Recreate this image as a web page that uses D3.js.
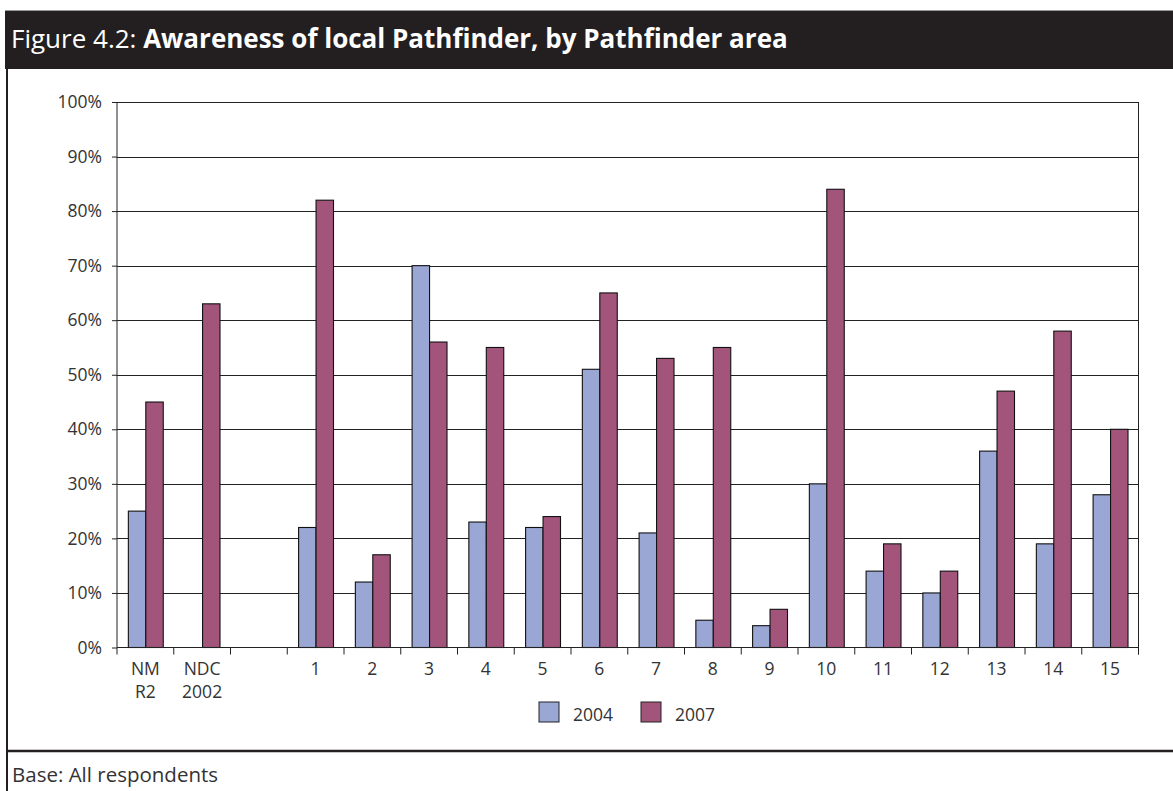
<!DOCTYPE html>
<html>
<head>
<meta charset="utf-8">
<script src="https://cdn.jsdelivr.net/npm/d3@7"></script>
<style>
  html, body { margin: 0; padding: 0; background: #fff; }
  svg { display: block; }
  text { font-family: "Open Sans", "Noto Sans", sans-serif; }
</style>
</head>
<body>
<svg id="chart" width="1173" height="791"></svg>
<script>
// ---- data ----
const categories = ["NM\nR2", "NDC\n2002", "", "1", "2", "3", "4", "5", "6", "7", "8", "9", "10", "11", "12", "13", "14", "15"];
const series = ["2004", "2007"];
const values2004 = [25, null, null, 22, 12, 70, 23, 22, 51, 21, 5, 4, 30, 14, 10, 36, 19, 28];
const values2007 = [45, 63, null, 82, 17, 56, 55, 24, 65, 53, 55, 7, 84, 19, 14, 47, 58, 40];
const yTicks = [0, 10, 20, 30, 40, 50, 60, 70, 80, 90, 100];
const colors = { "2004": "#9aa6d4", "2007": "#a3547b" };

const svg = d3.select("#chart");
const W = 1173, H = 791;
const FS = 17.5;

// frame
svg.append("rect").attr("x", 5).attr("y", 10).attr("width", W - 5).attr("height", 59).attr("fill", "#231f20");
svg.append("line").attr("x1", 5).attr("x2", W).attr("y1", 10.5).attr("y2", 10.5).attr("stroke", "#9a9a9a").attr("stroke-width", 1);
svg.append("line").attr("x1", 7).attr("x2", 7).attr("y1", 69).attr("y2", H).attr("stroke", "#231f20").attr("stroke-width", 2);
svg.append("line").attr("x1", 6).attr("x2", W).attr("y1", 751).attr("y2", 751).attr("stroke", "#231f20").attr("stroke-width", 2.5);

const title = svg.append("text").attr("x", 11).attr("y", 48).attr("fill", "#fff").attr("font-size", 26);
title.append("tspan").text("Figure 4.2: ");
title.append("tspan").attr("font-weight", "bold").text("Awareness of local Pathfinder, by Pathfinder area");

svg.append("text").attr("x", 12).attr("y", 782).attr("fill", "#333").attr("font-size", 20.5).text("Base: All respondents");

// plot area
const L = 117, R = 1138.5, T = 102, B = 647.5;
const x0 = d3.scaleBand().domain(d3.range(categories.length)).range([L, R]).padding(0);
const x1 = d3.scaleBand().domain(series).range([x0.bandwidth() * 0.2, x0.bandwidth() * 0.815]).padding(0);
const y = d3.scaleLinear().domain([0, 100]).range([B, T]);

// gridlines
svg.append("g").selectAll("line").data(yTicks.filter(d => d > 0)).join("line")
  .attr("x1", L).attr("x2", R)
  .attr("y1", d => Math.round(y(d)) + 0.5).attr("y2", d => Math.round(y(d)) + 0.5)
  .attr("stroke", "#222").attr("stroke-width", 1);

// right border
svg.append("line").attr("x1", R).attr("x2", R).attr("y1", T).attr("y2", B + 7).attr("stroke", "#222").attr("stroke-width", 1);

// bars
const rows = categories.map((c, i) => ({ i, v: { "2004": values2004[i], "2007": values2007[i] } }));
const g = svg.append("g");
rows.forEach(r => {
  series.forEach(s => {
    const v = r.v[s];
    if (v == null) return;
    g.append("rect")
      .attr("x", x0(r.i) + x1(s))
      .attr("y", y(v))
      .attr("width", x1.bandwidth())
      .attr("height", y(0) - y(v))
      .attr("fill", colors[s])
      .attr("stroke", "#111").attr("stroke-width", 1.1);
  });
});

// y axis
const yAxis = d3.axisLeft(y).tickValues(yTicks).tickSize(5).tickPadding(10).tickFormat(d => d + "%");
const ya = svg.append("g").attr("transform", `translate(${L},0)`).call(yAxis);
ya.select(".domain").attr("stroke", "#222").attr("d", `M0,${T}V${B}`);
ya.selectAll(".tick line").attr("stroke", "#222");
ya.selectAll(".tick text").attr("font-size", FS).attr("fill", "#333").attr("font-family", "'Open Sans', 'Noto Sans', sans-serif");

// x axis
svg.append("line").attr("x1", L).attr("x2", R).attr("y1", B).attr("y2", B).attr("stroke", "#222");
const bounds = d3.range(categories.length + 1).map(i => i < categories.length ? x0(i) : R);
svg.append("g").selectAll("line").data(bounds).join("line")
  .attr("x1", d => d).attr("x2", d => d).attr("y1", B).attr("y2", B + 7)
  .attr("stroke", "#222");
const labelLines = [];
categories.forEach((c, i) => c.split("\n").forEach((t, k) => { if (t) labelLines.push({ i, k, t }); }));
svg.append("g").selectAll("text").data(labelLines).join("text")
  .attr("x", d => x0(d.i) + x0.bandwidth() / 2)
  .attr("y", d => 675 + d.k * 23)
  .attr("text-anchor", "middle").attr("font-size", FS).attr("fill", "#333")
  .text(d => d.t);

// legend
const legX = [539, 641];
series.forEach((s, k) => {
  svg.append("rect").attr("x", legX[k]).attr("y", 702).attr("width", 20).attr("height", 20)
    .attr("fill", colors[s]).attr("stroke", "#222").attr("stroke-width", 1);
  svg.append("text").attr("x", legX[k] + 34).attr("y", 721).attr("font-size", FS).attr("fill", "#333").text(s);
});
</script>
</body>
</html>
